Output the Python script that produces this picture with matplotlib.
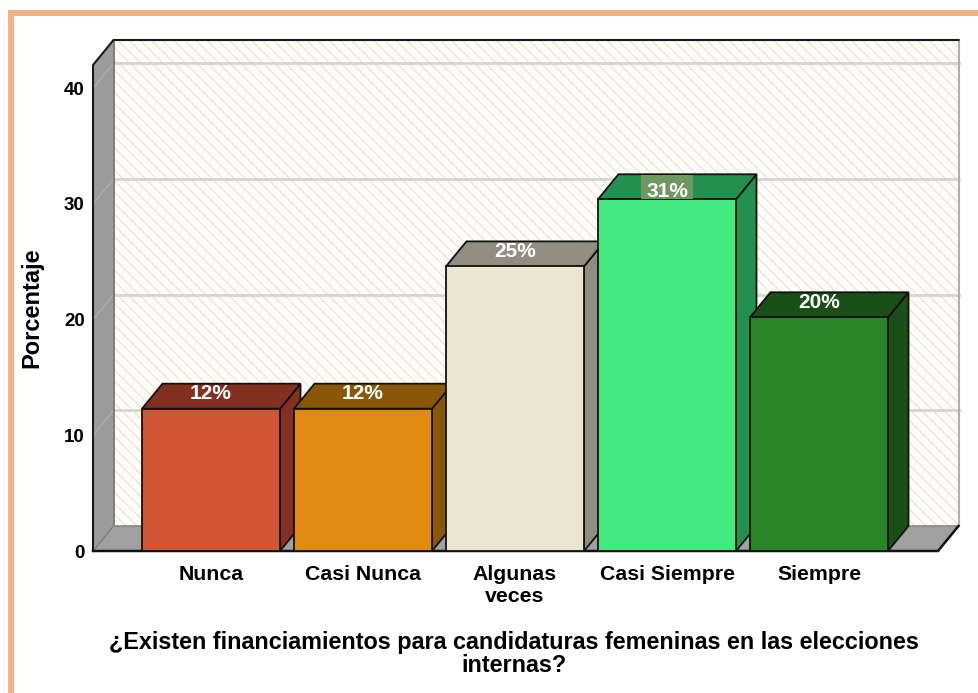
import matplotlib
matplotlib.use("Agg")
import matplotlib.pyplot as plt
from matplotlib.patches import Polygon, Rectangle

categories = ["Nunca", "Casi Nunca", "Algunas\nveces", "Casi Siempre", "Siempre"]
values = [12.3, 12.3, 24.6, 30.4, 20.2]
labels = ["12%", "12%", "25%", "31%", "20%"]
front_colors = ["#D05533", "#E08B10", "#EBE5D1", "#42EA80", "#2A8529"]
side_colors = ["#843020", "#8A5608", "#918D80", "#249050", "#1A4F18"]
y_ticks = [0, 10, 20, 30, 40]
xlabel = "¿Existen financiamientos para candidaturas femeninas en las elecciones\ninternas?"
ylabel = "Porcentaje"

W, H = 979, 693
plt.rcParams["font.family"] = ["Liberation Sans", "DejaVu Sans"]
plt.rcParams["hatch.linewidth"] = 1.0
plt.rcParams["hatch.color"] = "#EDE8D6"
fig = plt.figure(figsize=(W / 100, H / 100), dpi=100, facecolor="white")

# frame
orange = "#F4B183"
fig.add_artist(Rectangle((8 / W, 0), 6 / W, 1 - 10 / H, transform=fig.transFigure, fc=orange, ec="none"))
fig.add_artist(Rectangle((8 / W, 1 - 16 / H), 1 - 8 / W, 6 / H, transform=fig.transFigure, fc=orange, ec="none"))

L, R, B, T = 93, 938, 551, 65
ax = fig.add_axes([L / W, 1 - B / H, (R - L) / W, (B - T) / H])
ppx = 152.0
ppy = 11.57
ax.set_xlim((L - 211) / ppx, (R - 211) / ppx)
ax.set_ylim(0, (B - T) / ppy)
x0, x1 = ax.get_xlim()
y0, y1 = ax.get_ylim()
dx = 20.5 / ppx
dy = 25 / ppy
bw = 138 / ppx

for s in ax.spines.values():
    s.set_visible(False)
ax.patch.set_visible(False)


def poly(pts, **kw):
    kw.setdefault("clip_on", False)
    ax.add_patch(Polygon(pts, closed=True, **kw))


# back wall
poly([(x0 + dx, y0 + dy), (x1 + dx, y0 + dy), (x1 + dx, y1 + dy), (x0 + dx, y1 + dy)],
     fc="#FDFCF8", ec="#EDE8D6", hatch="\\\\\\", lw=0, zorder=1)
# gridlines on the back wall and side wall
for t in y_ticks[1:]:
    ax.plot([x0 + dx, x1 + dx], [t + dy, t + dy], color="#D8D6CC", lw=2, zorder=2, clip_on=False)
# left wall and floor
poly([(x0, y0), (x0 + dx, y0 + dy), (x0 + dx, y1 + dy), (x0, y1)], fc="#9C9C9C", ec="none", zorder=3)
poly([(x0, y0), (x1, y0), (x1 + dx, y0 + dy), (x0 + dx, y0 + dy)], fc="#A0A0A0", ec="none", zorder=3)
for t in y_ticks[1:]:
    ax.plot([x0, x0 + dx], [t, t + dy], color="#B0B0B0", lw=0.8, zorder=4, clip_on=False)
ax.plot([x0, x0 + dx], [y0, y0 + dy], color="#7E7E7E", lw=1, zorder=4, clip_on=False)
ax.plot([x0 + dx, x0 + dx], [y0 + dy, y1 + dy], color="#6E6E66", lw=1.2, zorder=4, clip_on=False)
ax.plot([x0 + dx, x1 + dx], [y0 + dy, y0 + dy], color="#8A8A82", lw=1.2, zorder=4, clip_on=False)
ax.plot([x1 + dx, x1 + dx], [y0 + dy, y1 + dy], color="#B0B0A8", lw=1.5, zorder=4, clip_on=False)
# outlines
ax.plot([x0, x0, x0 + dx, x1 + dx], [y0, y1, y1 + dy, y1 + dy], color="#1A1A1A", lw=1.5, zorder=4,
        clip_on=False, solid_joinstyle="miter")
ax.plot([x0, x1, x1 + dx], [y0, y0, y0 + dy], color="#111111", lw=1.8, zorder=4, clip_on=False)

# bars
for i, (v, fc, sc, lab) in enumerate(zip(values, front_colors, side_colors, labels)):
    a, b = i - bw / 2, i + bw / 2
    z = 5 + i
    poly([(b, 0), (b + dx, dy), (b + dx, v + dy), (b, v)], fc=sc, ec="#111111", lw=1.3, zorder=z)
    poly([(a, v), (b, v), (b + dx, v + dy), (a + dx, v + dy)], fc=sc, ec="#111111", lw=1.3, zorder=z)
    ax.bar(i, v, width=bw, color=fc, edgecolor="#111111", linewidth=1.3, zorder=z, clip_on=False)
    # the 31% label sits on a muted plate and lower on the top face
    if lab == "31%":
        hw = 26 / ppx
        poly([(i - hw, v + 0.06), (i + hw, v + 0.06), (i + hw, v + dy - 0.06), (i - hw, v + dy - 0.06)],
             fc="#6F9760", ec="none", zorder=z + 1)
        off = 0.68
    else:
        off = 1.3
    ax.text(i, v + off, lab, color="white", fontsize=15, fontweight="bold",
            ha="center", va="center", zorder=z + 2)

ax.set_xticks(range(len(categories)))
ax.set_xticklabels(categories, fontsize=15.3, fontweight="bold", linespacing=1.18, color="black")
ax.set_yticks(y_ticks)
ax.set_yticklabels([str(t) for t in y_ticks], fontsize=13.5, fontweight="bold", color="black")
ax.tick_params(axis="both", length=0)
ax.tick_params(axis="x", pad=10)
ax.tick_params(axis="y", pad=6)

ax.set_ylabel(ylabel, fontsize=17, fontweight="bold", color="black")
ax.yaxis.set_label_coords((32 - L) / (R - L), (B - 308) / (B - T))
ax.yaxis.label.set_va("center")
ax.set_xlabel(xlabel, fontsize=16.8, fontweight="bold", color="black", linespacing=1.0)
ax.xaxis.set_label_coords((514 - L) / (R - L), (B - 677) / (B - T))
ax.xaxis.label.set_va("bottom")

fig.savefig("out.png", dpi=100, facecolor="white")
